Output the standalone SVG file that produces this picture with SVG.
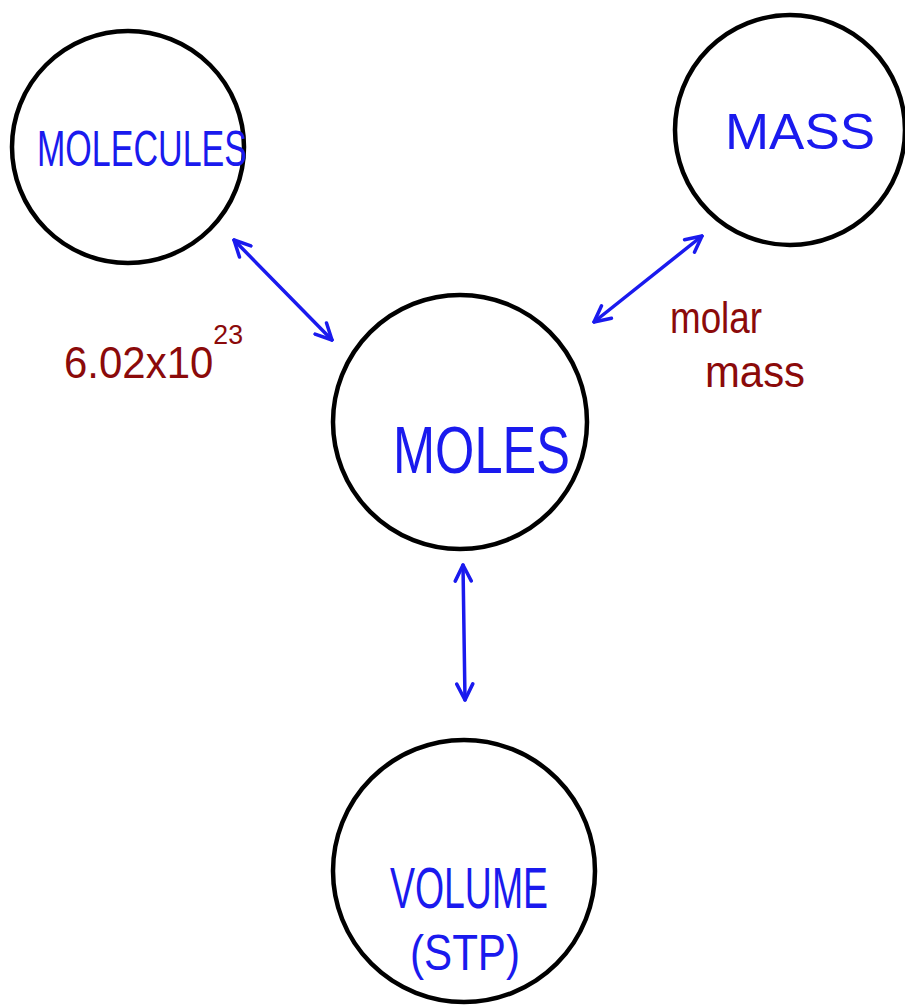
<svg xmlns="http://www.w3.org/2000/svg" width="905" height="1005" viewBox="0 0 905 1005">
  <style>
    .node circle { fill: #ffffff; stroke: #000000; stroke-width: 4.5; }
    .label { font-family: "Liberation Sans", Arial, sans-serif; fill: #1a1aee; }
    .note { font-family: "Liberation Sans", Arial, sans-serif; fill: #8b0a0a; }
    .link { fill: none; stroke: #1a1aee; stroke-width: 3.5; stroke-linecap: round; marker-start: url(#head); marker-end: url(#head); }
  </style>
  <defs>
    <marker id="head" viewBox="0 0 20 20" refX="18" refY="10" markerWidth="20" markerHeight="20" markerUnits="userSpaceOnUse" orient="auto-start-reverse">
      <polyline points="2,2 18,10 2,18" fill="none" stroke="#1a1aee" stroke-width="3.5" stroke-linecap="round" stroke-linejoin="round"/>
    </marker>
  </defs>
  <rect width="905" height="1005" fill="#ffffff"/>

  <g id="connectors">
    <line class="link" x1="234" y1="240" x2="332" y2="340"/>
    <line class="link" x1="702" y1="236" x2="594" y2="322"/>
    <line class="link" x1="463" y1="565" x2="465" y2="700"/>
  </g>

  <g id="node-molecules" class="node">
    <circle cx="128" cy="147" r="116"/>
    <text class="label" x="37" y="166" font-size="50" textLength="210" lengthAdjust="spacingAndGlyphs">MOLECULES</text>
  </g>

  <g id="node-mass" class="node">
    <circle cx="790" cy="130" r="115"/>
    <text class="label" x="725" y="149" font-size="50" textLength="150" lengthAdjust="spacingAndGlyphs">MASS</text>
  </g>

  <g id="node-moles" class="node">
    <circle cx="460" cy="422" r="127"/>
    <text class="label" x="393" y="473" font-size="66" textLength="177" lengthAdjust="spacingAndGlyphs">MOLES</text>
  </g>

  <g id="node-volume" class="node">
    <circle cx="464" cy="871" r="131"/>
    <text class="label" x="390" y="908" font-size="58" textLength="158" lengthAdjust="spacingAndGlyphs">VOLUME</text>
    <text class="label" x="410" y="970" font-size="50" textLength="110" lengthAdjust="spacingAndGlyphs">(STP)</text>
  </g>

  <g id="note-avogadro">
    <text class="note" x="64" y="378" font-size="44" textLength="179" lengthAdjust="spacingAndGlyphs">6.02x10<tspan dy="-34" font-size="28">23</tspan></text>
  </g>

  <g id="note-molar-mass">
    <text class="note" x="670" y="333" font-size="44" textLength="92" lengthAdjust="spacingAndGlyphs">molar</text>
    <text class="note" x="705" y="387" font-size="44" textLength="100" lengthAdjust="spacingAndGlyphs">mass</text>
  </g>
</svg>
